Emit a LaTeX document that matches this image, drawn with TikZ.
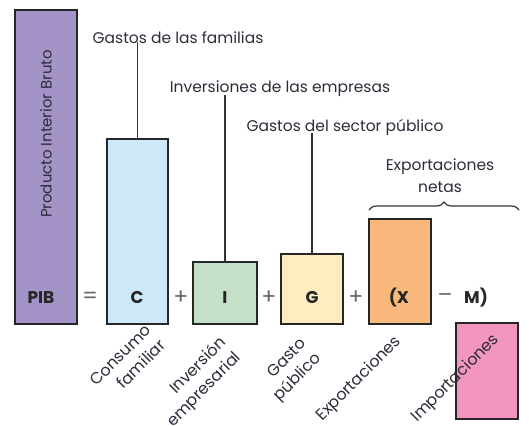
\documentclass[tikz,border=0pt]{standalone}
\usepackage{fontspec}
\setmainfont{Poppins}
\usetikzlibrary{positioning,decorations.pathreplacing}
\definecolor{pibcol}{HTML}{A393C7}
\definecolor{ccol}{HTML}{CDE9F9}
\definecolor{icol}{HTML}{C5DFC9}
\definecolor{gcol}{HTML}{FDEDC0}
\definecolor{xcol}{HTML}{F8B77B}
\definecolor{mcol}{HTML}{F296C0}
\definecolor{txt}{HTML}{2C2C3A}
\tikzset{
  bar/.style={draw=black!85, line width=1.4pt, inner sep=0pt, outer sep=0pt, anchor=south west},
  sym/.style={font=\fontsize{17}{19}\selectfont\bfseries, text=black!85},
  op/.style={font=\fontsize{22}{24}\selectfont, text=black!60},
  lbl/.style={font=\fontsize{15.5}{22}\selectfont, text=txt, inner sep=1pt},
  rlbl/.style={lbl, font=\fontsize{16}{21}\selectfont, rotate=45, anchor=north east, align=right},
  stem/.style={draw=black!80, line width=1.2pt}
}
\begin{document}
\begin{tikzpicture}[x=1pt, y=-1pt]
  \useasboundingbox (0,0) rectangle (529,425);
  \node[bar, fill=pibcol, minimum width=62, minimum height=314] (pib) at (15,324) {};
  \node[bar, fill=ccol, minimum width=61, minimum height=185] (cons) at (107,324) {};
  \node[bar, fill=icol, minimum width=64, minimum height=62] (inv) at (193,324) {};
  \node[bar, fill=gcol, minimum width=62, minimum height=70] (gasto) at (281,324) {};
  \node[bar, fill=xcol, minimum width=62, minimum height=105] (expo) at (369,324) {};
  \node[bar, fill=mcol, minimum width=62, minimum height=96] (impo) at (456,419) {};

  \node[lbl, rotate=90, font=\fontsize{15}{17}\selectfont] (pibname) at (46,134) {Producto Interior Bruto};
  \node[sym] (pibsym) at (41,298) {PIB};
  \node[op] (eq) at (90,298) {=};
  \node[sym] (csym) at (137,298) {C};
  \node[op] (p1) at (181,298) {+};
  \node[sym] (isym) at (225,298) {I};
  \node[op] (p2) at (269,298) {+};
  \node[sym] (gsym) at (312,298) {G};
  \node[op] (p3) at (356,298) {+};
  \node[sym] (xsym) at (399,298) {(X};
  \node[op] (mn) at (445,298) {--};
  \node[sym] (msym) at (476,298) {M)};

  \node[lbl] (fam) at (178,38) {Gastos de las familias};
  \node[lbl] (emp) at (280,89) {Inversiones de las empresas};
  \node[lbl] (pub) at (345,127) {Gastos del sector público};
  \node[lbl, align=center] (netas) at (440,176) {Exportaciones\\netas};

  \draw[stem] (fam.south -| cons.north) ++(0,-3) -- (cons.north);
  \draw[stem] (emp.south -| inv.north) ++(0,-3) -- (inv.north);
  \draw[stem] (pub.south -| gasto.north) ++(0,-3) -- (gasto.north);

  \coordinate (bl) at (369,210);
  \coordinate (br) at (519,210);
  \draw[stem, decorate, decoration={brace, amplitude=8pt}] (bl) -- (br);

  \node[rlbl] (lc) at (144,322) {Consumo\\familiar};
  \node[rlbl] (li) at (218,333) {Inversión\\empresarial};
  \node[rlbl] (lg) at (299,335) {Gasto\\público};
  \node[rlbl] (lx) at (393,332) {Exportaciones};
  \node[rlbl] (lm) at (491,330) {Importaciones};
\end{tikzpicture}
\end{document}
